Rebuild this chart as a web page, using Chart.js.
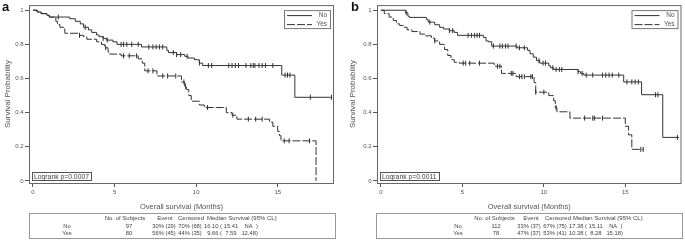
<!DOCTYPE html>
<html>
<head>
<meta charset="utf-8">
<script src="https://cdn.jsdelivr.net/npm/chart.js@4.4.0/dist/chart.umd.min.js"></script>
<style>
  body { margin: 0; background: #fff; width: 685px; height: 240px; overflow: hidden; position: relative;
         font-family: 'Liberation Sans', Arial, sans-serif; }
  canvas { position: absolute; top: 0; }
  .tag { position: absolute; top: 0; font-weight: bold; font-size: 13px; line-height: 13px; color: #111; }
</style>
</head>
<body>
<canvas id="chartA" width="340" height="240" style="left:0px"></canvas>
<canvas id="chartB" width="340" height="240" style="left:345px"></canvas>
<div class="tag" style="left:2px">a</div>
<div class="tag" style="left:351px">b</div>
<script>
const xTicks = [0, 5, 10, 15];
const yTicks = [0, 0.2, 0.4, 0.6, 0.8, 1];
const groups = ['No', 'Yes'];
const tableHeader = ['No. of Subjects', 'Event', 'Censored', 'Median Survival (95% CL)'];

// panel a
const aNoTime = [0, 0.25, 0.5, 0.85, 1.0, 2.25, 2.6, 2.9, 3.1, 3.4, 3.6, 3.9, 4.05, 4.3, 4.5, 4.9, 5.15, 6.65, 8.2, 8.3, 8.8, 9.3, 9.5, 9.9, 10.2, 10.4, 15.25, 16.05, 18.3];
const aNoSurv = [1, 0.99, 0.98, 0.97, 0.96, 0.95, 0.935, 0.92, 0.9, 0.885, 0.87, 0.855, 0.845, 0.835, 0.825, 0.815, 0.8, 0.785, 0.765, 0.752, 0.74, 0.73, 0.72, 0.71, 0.69, 0.676, 0.62, 0.49, 0.49];
const aNoCens = [1.55, 3.2, 4.3, 4.55, 5.4, 5.55, 5.75, 6.05, 6.45, 7.1, 7.35, 7.55, 7.75, 7.95, 8.6, 8.8, 9.05, 9.45, 10.2, 10.75, 10.95, 12.0, 12.2, 12.4, 12.6, 13.05, 13.35, 13.5, 13.6, 13.85, 14.05, 14.25, 14.7, 15.45, 15.6, 15.75, 17.0, 18.3];
const aYesTime = [0, 0.25, 0.5, 0.85, 1.0, 1.4, 1.5, 1.65, 1.95, 2.85, 3.1, 3.3, 3.9, 4.2, 4.4, 4.6, 4.7, 5.4, 6.45, 6.7, 6.85, 7.6, 9.1, 9.3, 9.4, 9.55, 9.7, 10.2, 10.5, 11.85, 12.2, 12.5, 14.5, 14.7, 15.0, 15.1, 15.2, 17.35];
const aYesSurv = [1, 0.99, 0.98, 0.97, 0.96, 0.935, 0.916, 0.9, 0.865, 0.853, 0.845, 0.83, 0.815, 0.8, 0.78, 0.755, 0.743, 0.733, 0.715, 0.69, 0.645, 0.615, 0.58, 0.555, 0.535, 0.5, 0.467, 0.445, 0.43, 0.4, 0.385, 0.362, 0.345, 0.32, 0.29, 0.265, 0.235, 0];
const aYesCens = [2.85, 4.45, 5.55, 5.9, 6.35, 7.05, 7.35, 7.95, 8.25, 8.75, 9.25, 9.35, 10.7, 12.25, 13.2, 13.65, 14.05, 15.4, 15.7, 16.95];
const aLogrank = 'Logrank p=0.0007';
const aSubjects = ['97', '80'];
const aEvent = ['30% (29)', '56% (45)'];
const aCensored = ['70% (68)', '44% (35)'];
const aMedian = ['16.10 ( 15.41    NA  )', '  9.66 (  7.59   12.48)'];

// panel b
const bNoTime = [0, 1.5, 1.65, 1.75, 2.8, 2.9, 3.3, 3.6, 3.85, 4.2, 4.5, 4.7, 6.3, 6.45, 6.6, 6.8, 8.35, 9.0, 9.15, 9.35, 9.55, 9.75, 10.3, 10.4, 10.6, 12.1, 12.25, 12.45, 14.9, 16.0, 17.3, 18.3];
const bNoSurv = [1, 0.985, 0.965, 0.958, 0.945, 0.93, 0.915, 0.9, 0.89, 0.88, 0.87, 0.853, 0.84, 0.82, 0.815, 0.79, 0.78, 0.765, 0.745, 0.725, 0.705, 0.69, 0.675, 0.663, 0.653, 0.64, 0.63, 0.62, 0.58, 0.505, 0.255, 0.255];
const bNoCens = [1.55, 3.0, 4.2, 4.4, 5.35, 5.55, 5.75, 5.9, 6.05, 6.9, 7.3, 7.45, 7.65, 7.8, 8.3, 8.5, 8.8, 9.7, 9.95, 10.1, 10.55, 10.75, 10.95, 11.1, 12.1, 12.35, 12.6, 13.0, 13.6, 13.8, 14.0, 14.2, 14.6, 15.1, 15.4, 15.6, 15.8, 16.85, 17.0, 18.2];
const bYesTime = [0, 0.2, 0.5, 0.75, 0.95, 1.15, 1.4, 1.6, 1.9, 2.4, 2.7, 3.1, 3.3, 3.6, 3.9, 4.1, 4.3, 4.5, 4.8, 6.95, 7.4, 8.3, 9.4, 9.5, 10.3, 10.6, 10.7, 10.8, 11.6, 15.0, 15.2, 15.4, 16.1];
const bYesSurv = [1, 0.98, 0.96, 0.94, 0.92, 0.91, 0.9, 0.885, 0.875, 0.86, 0.85, 0.836, 0.82, 0.8, 0.77, 0.735, 0.71, 0.695, 0.69, 0.672, 0.63, 0.611, 0.577, 0.52, 0.5, 0.47, 0.43, 0.405, 0.368, 0.32, 0.27, 0.185, 0.185];
const bYesCens = [3.3, 5.05, 5.2, 5.45, 6.05, 7.15, 7.3, 8.0, 8.1, 8.5, 8.65, 8.8, 9.2, 9.3, 9.5, 10.0, 10.75, 12.5, 13.0, 13.1, 13.6, 15.95, 16.1];
const bLogrank = 'Logrank p=0.0011';
const bSubjects = ['112', '78'];
const bEvent = ['33% (37)', '47% (37)'];
const bCensored = ['67% (75)', '53% (41)'];
const bMedian = ['17.38 ( 15.11    NA  )', '10.38 (  8.28   15.18)'];

const fontFamily = "'Liberation Sans', Arial, sans-serif";
Chart.defaults.font.family = fontFamily;
const lineColor = '#333';
const textColor = '#555';

// survival value at time t
const survAt = (times, surv, t) => {
  let s = surv[0];
  times.forEach((ti, i) => { if (ti <= t) s = surv[i]; });
  return s;
};

const curve = (times, surv) => times.map((t, i) => ({ x: t, y: surv[i] }));
const marks = (times, surv, cens) => cens.map(t => ({ x: t, y: survAt(times, surv, t) }));

// frame, legend box, logrank note and the summary table
const kmDecor = {
  id: 'kmDecor',
  afterDraw(chart, args, opts) {
    const { ctx, chartArea: a } = chart;
    ctx.save();
    ctx.strokeStyle = '#666';
    ctx.lineWidth = 1;
    ctx.strokeRect(a.left + 0.5, a.top + 0.5, a.right - a.left - 1, a.bottom - a.top);

    // legend
    const bx = a.right - 50, by = a.top + 5, bw = 46, bh = 18;
    ctx.strokeStyle = '#777';
    ctx.strokeRect(bx + 0.5, by + 0.5, bw, bh);
    ctx.font = '6.5px ' + fontFamily;
    ctx.fillStyle = textColor;
    ctx.textAlign = 'right';
    ctx.textBaseline = 'middle';
    chart.data.datasets.slice(0, 2).forEach((ds, i) => {
      const ly = by + 5 + i * 9 + 0.5;
      ctx.strokeStyle = ds.borderColor;
      ctx.setLineDash(ds.borderDash || []);
      ctx.beginPath();
      ctx.moveTo(bx + 3, ly);
      ctx.lineTo(bx + 28, ly);
      ctx.stroke();
      ctx.setLineDash([]);
      ctx.fillText(ds.label, bx + bw - 3, ly);
    });

    // logrank
    ctx.strokeStyle = '#555';
    ctx.strokeRect(a.left + 3.5, a.bottom - 10.5, 59, 8);
    ctx.font = '6.8px ' + fontFamily;
    ctx.textAlign = 'left';
    ctx.fillStyle = '#444';
    ctx.fillText(opts.note, a.left + 5, a.bottom - 6.3);

    // table
    const t = opts.table;
    const tx = t.left, ty = 213;
    ctx.strokeStyle = '#999';
    ctx.strokeRect(tx + 0.5, ty + 0.5, 306, 25);
    ctx.fillStyle = '#444';
    const rowY = [ty + 5, ty + 13, ty + 20];
    const put = (text, x, y, align) => { ctx.textAlign = align; ctx.fillText(text, tx + x, y); };
    const c = t.cols;
    ctx.font = '6px ' + fontFamily;
    put(tableHeader[0], c.subj, rowY[0], 'center');
    put(tableHeader[1], c.event, rowY[0], 'center');
    put(tableHeader[2], c.cens, rowY[0], 'center');
    put(tableHeader[3], c.medHead, rowY[0], 'left');
    ctx.font = '5.8px ' + fontFamily;
    groups.forEach((g, i) => {
      const y = rowY[i + 1];
      put(g, c.label, y, 'center');
      put(t.subjects[i], c.subjVal, y, 'center');
      put(t.event[i], c.eventVal, y, 'center');
      put(t.censored[i], c.censVal, y, 'center');
      put(t.median[i], c.med, y, 'left');
    });
    ctx.restore();
  }
};

function makeChart(id, d) {
  const markStyle = {
    type: 'scatter', showLine: false, pointStyle: 'line', pointRotation: 90,
    pointRadius: 2.5, pointHoverRadius: 2.5, pointBorderWidth: 1, pointBorderColor: lineColor, borderColor: lineColor
  };
  new Chart(document.getElementById(id), {
    type: 'line',
    data: {
      datasets: [
        { label: groups[0], data: curve(d.noT, d.noS), stepped: 'before', borderColor: lineColor, borderWidth: 1, pointRadius: 0, fill: false },
        { label: groups[1], data: curve(d.yesT, d.yesS), stepped: 'before', borderColor: lineColor, borderWidth: 1, borderDash: [8, 2], pointRadius: 0, fill: false },
        { label: 'noCens', data: marks(d.noT, d.noS, d.noC), ...markStyle },
        { label: 'yesCens', data: marks(d.yesT, d.yesS, d.yesC), ...markStyle }
      ]
    },
    options: {
      responsive: false,
      animation: false,
      devicePixelRatio: 1,
      layout: { padding: { top: 1, right: d.padRight, left: 0, bottom: 28 } },
      plugins: { legend: { display: false }, tooltip: { enabled: false }, kmDecor: { note: d.note, table: d.table } },
      scales: {
        x: {
          type: 'linear', min: -0.245, max: 18.45,
          afterBuildTicks: s => { s.ticks = xTicks.map(v => ({ value: v })); },
          afterFit: s => { s.height = 29; },
          grid: { drawOnChartArea: false, drawTicks: true, tickLength: 4, color: '#555' },
          border: { display: false },
          ticks: { font: { size: 6 }, color: textColor, padding: 2, maxRotation: 0 },
          title: { display: true, text: 'Overall survival (Months)', font: { size: 7.5 }, color: textColor, padding: { top: 0, bottom: 1 } }
        },
        y: {
          type: 'linear', min: -0.012, max: 1.03,
          afterBuildTicks: s => { s.ticks = yTicks.map(v => ({ value: v })); },
          afterFit: s => { s.width = d.yWidth; },
          grid: { drawOnChartArea: false, drawTicks: true, tickLength: 4, color: '#555' },
          border: { display: false },
          ticks: { font: { size: 6 }, color: textColor, padding: 1.5, callback: v => String(v) },
          title: { display: true, text: 'Survival Probability', font: { size: 8 }, color: textColor, padding: { top: 3.2, bottom: 0 } }
        }
      }
    },
    plugins: [kmDecor]
  });
}

makeChart('chartA', {
  noT: aNoTime, noS: aNoSurv, noC: aNoCens, yesT: aYesTime, yesS: aYesSurv, yesC: aYesCens,
  note: aLogrank, padRight: 6, yWidth: 29,
  table: {
    left: 29, subjects: aSubjects, event: aEvent, censored: aCensored, median: aMedian,
    cols: { label: 38, subj: 96, subjVal: 100, event: 136, eventVal: 135, cens: 162, censVal: 161, medHead: 178, med: 175 }
  }
});
makeChart('chartB', {
  noT: bNoTime, noS: bNoSurv, noC: bNoCens, yesT: bYesTime, yesS: bYesSurv, yesC: bYesCens,
  note: bLogrank, padRight: 2, yWidth: 32,
  table: {
    left: 31, subjects: bSubjects, event: bEvent, censored: bCensored, median: bMedian,
    cols: { label: 82, subj: 118.5, subjVal: 120, event: 155, eventVal: 153, cens: 182, censVal: 179, medHead: 197, med: 193 }
  }
});
</script>
</body>
</html>
